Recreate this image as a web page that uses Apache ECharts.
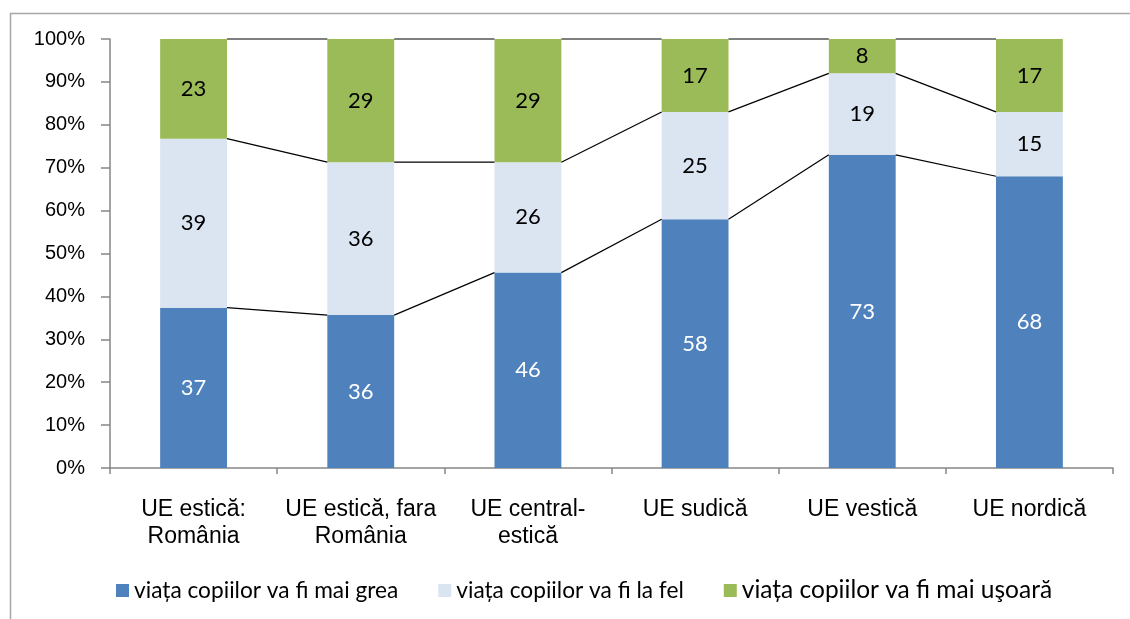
<!DOCTYPE html>
<html>
<head>
<meta charset="utf-8">
<title>Viața copiilor</title>
<script src="https://cdn.jsdelivr.net/npm/echarts@6/dist/echarts.min.js"></script>
<style>
  html, body { margin: 0; padding: 0; background: #fff; }
  #main { width: 1130px; height: 619px; }
</style>
</head>
<body>
<div id="main"></div>
<script type="text/javascript">
var categories = ['UE estică:\nRomânia', 'UE estică, fara\nRomânia', 'UE central-\nestică', 'UE sudică', 'UE vestică', 'UE nordică'];
var seriesNames = ['viața copiilor va fi mai grea', 'viața copiilor va fi la fel', 'viața copiilor va fi mai uşoară'];
var maiGrea = [37, 36, 46, 58, 73, 68];
var laFel = [39, 36, 26, 25, 19, 15];
var maiUsoara = [23, 29, 29, 17, 8, 17];
var colors = ['#4F81BD', '#DBE5F1', '#9BBB59'];

// 100% stacked: every column is scaled to its own total
var raw = [maiGrea, laFel, maiUsoara];
var totals = maiGrea.map(function (v, i) { return v + laFel[i] + maiUsoara[i]; });
var pct = raw.map(function (arr) {
    return arr.map(function (v, i) { return v / totals[i] * 100; });
});

// tops of the segments, for the connector lines
var lineData = [];
for (var i = 0; i < categories.length - 1; i++) {
    var a1 = pct[0][i], a2 = a1 + pct[1][i];
    var b1 = pct[0][i + 1], b2 = b1 + pct[1][i + 1];
    lineData.push([i, a1, a2, 100, b1, b2, 100]);
}

var myChart = echarts.init(document.getElementById('main'));

var barSeries = raw.map(function (arr, k) {
    return {
        name: seriesNames[k],
        type: 'bar',
        stack: 'total',
        barWidth: '40%',
        data: pct[k],
        itemStyle: { color: colors[k] },
        label: {
            show: true,
            position: 'inside',
            fontFamily: 'Lato',
            fontSize: 22,
            color: k === 0 ? '#ffffff' : '#000000',
            formatter: function (p) { return arr[p.dataIndex]; }
        },
        emphasis: { disabled: true }
    };
});

var option = {
    animation: false,
    graphic: [{
        type: 'rect',
        shape: { x: 10.5, y: 13.5, width: 1300, height: 800 },
        style: { fill: 'none', stroke: '#a6a6a6', lineWidth: 1.5 },
        silent: true
    }],
    legend: {
        left: 111,
        top: 573,
        itemWidth: 13,
        itemHeight: 13,
        itemGap: 40,
        icon: 'rect',
        textStyle: { fontFamily: 'Lato', fontSize: 22.7, color: '#000' },
        data: [
            { name: seriesNames[0] },
            { name: seriesNames[1] },
            { name: seriesNames[2], textStyle: { fontSize: 24.5 } }
        ]
    },
    grid: { left: 110, right: 17, top: 39, bottom: 151 },
    xAxis: {
        type: 'category',
        data: categories,
        axisLine: { lineStyle: { color: '#868686', width: 1.5 } },
        axisTick: { show: true, length: 6, lineStyle: { color: '#868686', width: 1.5 } },
        axisLabel: {
            fontFamily: 'Liberation Sans',
            fontSize: 23,
            lineHeight: 27,
            color: '#000',
            margin: 28,
            interval: 0
        }
    },
    yAxis: {
        type: 'value',
        min: 0,
        max: 100,
        interval: 10,
        splitLine: { show: false },
        axisLine: { show: true, lineStyle: { color: '#868686', width: 1.5 } },
        axisTick: { show: true, length: 9, lineStyle: { color: '#868686', width: 1.5 } },
        axisLabel: {
            formatter: '{value}%',
            fontFamily: 'Liberation Sans',
            fontSize: 20,
            color: '#000',
            margin: 25
        }
    },
    series: barSeries.concat([{
        type: 'custom',
        name: 'linii',
        data: lineData,
        encode: { x: 0, y: 1 },
        silent: true,
        z: 5,
        renderItem: function (params, api) {
            var idx = api.value(0);
            var half = api.size([1, 0])[0] * 0.4 / 2;
            var children = [];
            for (var k = 0; k < 3; k++) {
                var p1 = api.coord([idx, api.value(1 + k)]);
                var p2 = api.coord([idx + 1, api.value(4 + k)]);
                children.push({
                    type: 'line',
                    shape: { x1: p1[0] + half, y1: p1[1], x2: p2[0] - half, y2: p2[1] },
                    style: { stroke: '#000', lineWidth: 1.2 }
                });
            }
            return { type: 'group', children: children };
        }
    }])
};

myChart.setOption(option);
</script>
</body>
</html>
